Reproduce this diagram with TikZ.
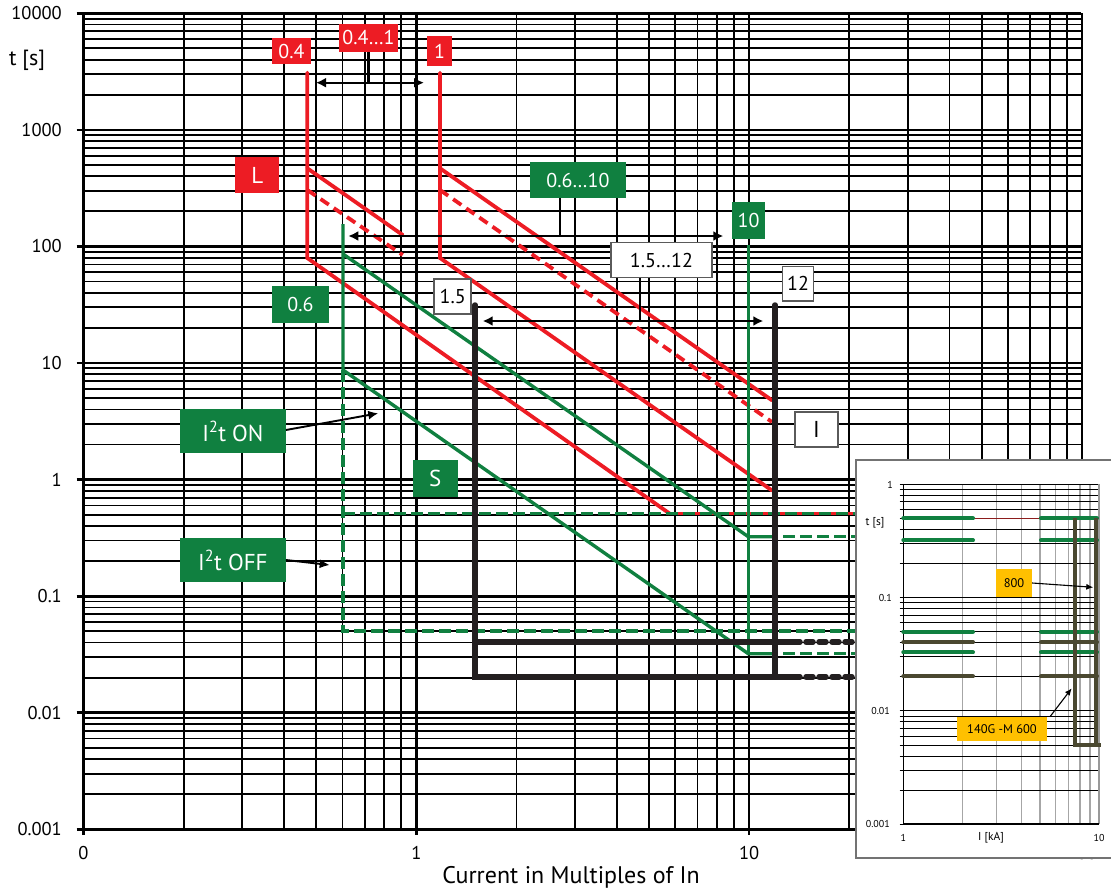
\documentclass[tikz,border=0pt]{standalone}
\usepackage{fontspec}
\setmainfont{PT Sans}
\usetikzlibrary{arrows.meta}
\definecolor{cred}{RGB}{237,28,36}
\definecolor{cgreen}{RGB}{16,128,64}
\definecolor{cblk}{RGB}{35,31,32}
\definecolor{colive}{RGB}{74,72,48}
\definecolor{cdred}{RGB}{140,28,28}
\definecolor{cyel}{RGB}{255,192,0}
\definecolor{cbord}{RGB}{90,90,90}
\tikzset{
  gminor/.style={line width=1.8pt, black},
  gmajor/.style={line width=2.7pt, black},
  redl/.style={draw=cred, line width=3.8pt, line cap=round},
  redd/.style={draw=cred, line width=3.8pt, dash pattern=on 10pt off 6pt},
  redfill/.style={draw=cred, line width=3.4pt, dash pattern=on 5pt off 12pt},
  greenl/.style={draw=cgreen, line width=3.4pt},
  greenthin/.style={draw=cgreen, line width=3pt},
  greend/.style={draw=cgreen, line width=3.4pt, dash pattern=on 12pt off 5pt},
  blk/.style={draw=cblk, line width=5.5pt, line cap=round},
  blkd/.style={draw=cblk, line width=5.5pt, line cap=round, dash pattern=on 7pt off 6pt},
  lab/.style={inner sep=0pt, font=\fontsize{18.5}{20}\selectfont},
  redbox/.style={fill=cred, text=white, inner sep=0pt, font=\fontsize{20}{21}\selectfont},
  greenbox/.style={fill=cgreen, text=white, inner sep=0pt, font=\fontsize{20}{21}\selectfont},
  whitebox/.style={fill=white, draw=cbord, line width=1.8pt, text=black, inner sep=0pt, font=\fontsize{20}{21}\selectfont},
  bigtxt/.style={font=\fontsize{23}{24}\selectfont},
  dimarrow/.style={{Latex[length=10pt,width=10pt]}-{Latex[length=10pt,width=10pt]}, line width=1.9pt, black},
  onearrow/.style={-{Latex[length=10pt,width=9pt]}, line width=1.9pt, black},
  stem/.style={line width=2.2pt, black},
  igridv/.style={line width=1.2pt, black!35},
  igridh/.style={line width=0.9pt, black},
  iaxis/.style={line width=1.6pt, black},
  igreen/.style={draw=cgreen, line width=4pt, line cap=round},
  iolive/.style={draw=colive, line width=4pt, line cap=round},
  ybox/.style={fill=cyel, inner sep=0pt, font=\fontsize{12.5}{13}\selectfont},
  ilab/.style={inner sep=0pt, font=\fontsize{10}{11}\selectfont},
  iarrow/.style={-{Latex[length=7pt,width=6pt]}, line width=1.1pt, black}
}
\begin{document}
\begin{tikzpicture}[x=1pt,y=-1pt,
  declare function={lx(\a)=83.5+332.8*(\a+1); ly(\a)=13.3+116.57*(4-\a);
                    ix(\a)=903.3+195.7*\a; iy(\a)=484.3-113.3*\a;}]
\useasboundingbox (0,0) rectangle (1111,894);

% ---------- main grid ----------
\foreach \e in {-1,0,1}{
  \foreach \k in {2,...,9}{
    \draw[gminor] ({lx(\e+log10(\k))},13.3) -- ({lx(\e+log10(\k))},829.3);
  }
}
\foreach \e in {-3,...,3}{
  \foreach \k in {2,...,9}{
    \draw[gminor] (83.5,{ly(\e+log10(\k))}) -- (1081.1,{ly(\e+log10(\k))});
  }
}
\foreach \e in {-1,0,1,2}{
  \draw[gmajor] ({lx(\e)},13.3) -- ({lx(\e)},829.3);
  \draw[gmajor] ({lx(\e)},829.3) -- ({lx(\e)},835);
}
\foreach \e in {-3,...,4}{
  \draw[gmajor] (76.7,{ly(\e)}) -- (1081.1,{ly(\e)});
}

% axis labels
\node[lab, anchor=east] (y4) at (62,{ly(4)}) {10000};
\node[lab, anchor=east] (y3) at (62,{ly(3)}) {1000};
\node[lab, anchor=east] (y2) at (62,{ly(2)}) {100};
\node[lab, anchor=east] (y1) at (62,{ly(1)}) {10};
\node[lab, anchor=east] (y0) at (62,{ly(0)}) {1};
\node[lab, anchor=east] (ym1) at (62,{ly(-1)}) {0.1};
\node[lab, anchor=east] (ym2) at (62,{ly(-2)}) {0.01};
\node[lab, anchor=east] (ym3) at (62,{ly(-3)}) {0.001};
\node[inner sep=0pt, font=\fontsize{22}{24}\selectfont] (tlab) at (27,60) {t [s]};
\node[lab] (x0) at ({lx(-1)},853) {0};
\node[lab] (x1) at ({lx(0)},853) {1};
\node[lab] (x2) at ({lx(1)},853) {10};
\node[lab] (x3) at ({lx(2)},853) {100};
\node[inner sep=0pt, font=\fontsize{24}{26}\selectfont] (xlab) at (571,877) {Current in Multiples of In};

% ---------- L curves (red) ----------
\draw[redl] (307.3,72.7) -- (307.3,258) -- (669.5,513.5);
\draw[redl] (307.3,168.3) -- (402.7,235);
\draw[redd] (307.3,190) -- (402.7,255);
\draw[redl] (440,72.7) -- (440,258) -- (772,490.5);
\draw[redl] (440,168.3) -- (772,400.3);
\draw[redd] (440,190) -- (772,422);

% ---------- S curves (green) ----------
\draw[greend] (343,370) -- (343,631) -- (857,631);
\draw[greend] (343,513.5) -- (857,513.5);
\draw[redfill] (678,513.5) -- (857,513.5);
\draw[greenl] (343,224) -- (343,370) -- (748.3,653.7) -- (776,653.7);
\draw[greenl] (343,254) -- (748.3,536.7) -- (776,536.7);
\draw[greenthin] (748.3,245) -- (748.3,653.7);
\draw[greend] (783,536.7) -- (857,536.7);
\draw[greend] (783,653.7) -- (857,653.7);

% ---------- I curves (black) ----------
\draw[blk] (475,305) -- (475,677) -- (800,677);
\draw[blk] (775,305) -- (775,677);
\draw[blk] (475,642) -- (800,642);
\draw[blkd] (806,642) -- (857,642);
\draw[blkd] (806,677) -- (857,677);

% ---------- label boxes ----------
\node[redbox, minimum width=38.4pt, minimum height=26.6pt] (b04) at (291.5,51) {0.4};
\node[redbox, minimum width=58.4pt, minimum height=27.7pt] (b041) at (368.5,37.9) {0.4…1};
\node[redbox, minimum width=24.4pt, minimum height=29.7pt] (b1) at (439.5,50.9) {1};
\node[redbox, bigtxt, minimum width=44.3pt, minimum height=36pt] (bL) at (257.2,175.3) {L};
\node[greenbox, minimum width=56.4pt, minimum height=36.7pt] (b06) at (300.5,304.4) {0.6};
\node[greenbox, bigtxt, minimum width=105.7pt, minimum height=43.4pt] (bon) at (232.9,431) {I\textsuperscript{2}t ON};
\node[greenbox, bigtxt, minimum width=105.7pt, minimum height=43.4pt] (boff) at (232.9,560) {I\textsuperscript{2}t OFF};
\node[greenbox, bigtxt, minimum width=44.6pt, minimum height=36.7pt] (bS) at (435.2,478.4) {S};
\node[greenbox, minimum width=95.7pt, minimum height=35.4pt] (b0610) at (577.9,180) {0.6…10};
\node[greenbox, minimum width=32.4pt, minimum height=36.4pt] (b10) at (748.5,220.5) {10};
\node[whitebox, minimum width=37pt, minimum height=35pt] (b15) at (452.7,296.7) {1.5};
\node[whitebox, minimum width=101pt, minimum height=35pt] (b1512) at (661.4,260) {1.5…12};
\node[whitebox, minimum width=31pt, minimum height=34.5pt] (b12) at (798,283.7) {12};
\node[whitebox, bigtxt, minimum width=42.6pt, minimum height=35pt] (bI) at (816.5,429.4) {I};

% ---------- arrows ----------
\coordinate (aL1) at (316,82.7);
\coordinate (aL2) at (424,82.7);
\draw[dimarrow] (aL1) -- (aL2);
\draw[stem] (b041.south) -- (b041.south |- aL1);
\coordinate (aS1) at (348.3,236);
\coordinate (aS2) at (723.3,236);
\draw[dimarrow] (aS1) -- (aS2);
\draw[stem] (b0610.south -| 560,0) -- (560,236);
\coordinate (aI1) at (482.7,321);
\coordinate (aI2) at (763.3,321);
\draw[dimarrow] (aI1) -- (aI2);
\draw[stem] (b1512.south -| 640,0) -- (640,321);
\coordinate (aon) at (378.3,413.3);
\draw[onearrow] (bon.east) ++(0,-1) -- (aon);
\coordinate (aoff) at (329.7,565);
\draw[onearrow] (boff.east) -- (aoff);

% ---------- inset ----------
\draw[fill=white, draw=black!55, line width=1.5pt] (856,460) rectangle (1120,858);
\foreach \k in {2,...,9}{
  \draw[igridv] ({ix(log10(\k))},484.3) -- ({ix(log10(\k))},824.2);
}
\foreach \e in {-3,-2,-1}{
  \foreach \k in {1,...,9}{
    \draw[igridh] (899.5,{iy(\e+log10(\k))}) -- (1099,{iy(\e+log10(\k))});
  }
}
\draw[igridh] (899.5,{iy(0)}) -- (1099,{iy(0)});
\draw[line width=1.8pt, black!40] (1099.3,484.3) -- (1099.3,824.2);
\draw[iaxis] (903.3,484.3) -- (903.3,824.2) -- (1099.3,824.2);

\node[ilab, anchor=east] (iy0) at (893,485) {1};
\node[ilab, anchor=east] (iy1) at (892,598) {0.1};
\node[ilab, anchor=east] (iy2) at (890,711) {0.01};
\node[ilab, anchor=east] (iy3) at (890,824) {0.001};
\node[inner sep=0pt, font=\fontsize{11.5}{12}\selectfont] (itl) at (875,523) {t [s]};
\node[ilab] (ix0) at (903.3,838) {1};
\node[inner sep=0pt, font=\fontsize{11.5}{12}\selectfont] (ixl) at (991,838) {I [kA]};
\node[ilab] (ix1) at (1099,838) {10};

\draw[draw=cdred, line width=1.6pt] (903.3,{iy(log10(0.5))}) -- (1099,{iy(log10(0.5))});
\foreach \t in {0.5,0.32,0.05,0.032}{
  \draw[igreen] (903.3,{iy(log10(\t))}) -- (973,{iy(log10(\t))});
  \draw[igreen] (1041,{iy(log10(\t))}) -- (1097,{iy(log10(\t))});
}
\foreach \t in {0.04,0.02}{
  \draw[iolive] (903.3,{iy(log10(\t))}) -- (973,{iy(log10(\t))});
  \draw[iolive] (1041,{iy(log10(\t))}) -- (1097,{iy(log10(\t))});
}
\draw[draw=colive, line width=4pt] (1075,518.4) -- (1075,745) -- (1101,745);
\draw[draw=colive, line width=4pt] (1096,518.4) -- (1096,745);

\node[ybox, minimum width=36pt, minimum height=28pt] (b800) at (1014,583) {800};
\node[ybox, minimum width=89.4pt, minimum height=24pt] (b600) at (1002,728.7) {140G -M 600};
\coordinate (a800) at (1093.3,587.3);
\draw[iarrow] (b800.east) -- (a800);
\coordinate (a600) at (1071.7,688.3);
\draw[iarrow] (1050,716.7) -- (a600);
\end{tikzpicture}
\end{document}
